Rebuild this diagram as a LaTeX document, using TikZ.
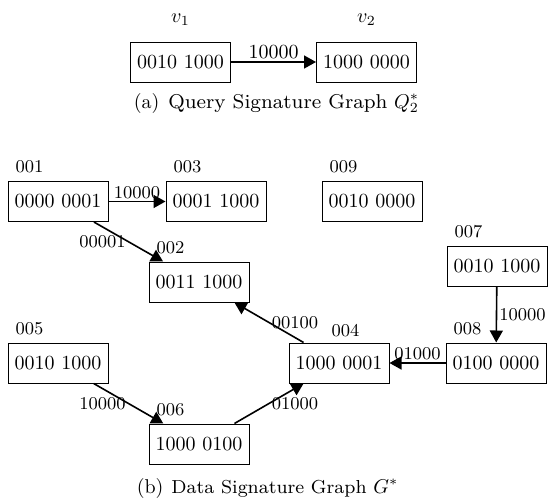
\documentclass[tikz,border=0pt]{standalone}
\usepackage{fontspec}
\newfontfamily\capfont{lmroman8-regular.otf}
\usetikzlibrary{arrows.meta,calc}
\begin{document}
\begin{tikzpicture}[x=0.5pt,y=-0.5pt,
  sigbox/.style={draw,line width=0.5pt,minimum width=50pt,minimum height=20pt,inner sep=0pt,font=\normalsize},
  idlab/.style={font=\small,inner sep=0pt},
  elab/.style={font=\small,inner sep=1pt},
  link/.style={line width=0.8pt,-{Triangle[length=6pt,width=6.5pt]}},
  caption/.style={inner sep=0pt}]
\useasboundingbox (0,0) rectangle (551,498);

% (a) query signature graph
\node[sigbox] (a1) at (180.5,62) {0010 1000};
\node[sigbox] (a2) at (366.5,62) {1000 0000};
\node (av1) at (180.5,20) {$v_1$};
\node (av2) at (366.5,20) {$v_2$};
\draw[link] (a1) -- node[above,inner sep=1pt] (ae) {10000} (a2);
\node[caption] (capa) at (276.5,103) {(a)\hspace{4.5pt}{\capfont Query Signature Graph} $Q_2^*$};

% (b) data signature graph
\node[sigbox] (n001) at (58,201.5) {0000 0001};
\node[sigbox] (n003) at (216,201.5) {0001 1000};
\node[sigbox] (n009) at (372,201.5) {0010 0000};
\node[sigbox] (n002) at (199,282) {0011 1000};
\node[sigbox] (n007) at (497,266) {0010 1000};
\node[sigbox] (n004) at (339,363) {1000 0001};
\node[sigbox] (n005) at (58,363) {0010 1000};
\node[sigbox] (n008) at (496,363) {0100 0000};
\node[sigbox] (n006) at (199,444) {1000 0100};

% vertex ids, above the top left corner of each box
\foreach \v in {001,003,009,002,007,005,008,006}
  \node[idlab] (l\v) at ($(n\v.north west)+(22,-14)$) {\v};
\node[idlab] (l004) at ($(n004.north west)+(57,-12)$) {004};

% edges
\draw[link] (n001) -- node[elab,above] (e13) {10000} (n003);
\draw[link] (n001) -- node[elab,anchor=east] (e12) {00001} (n002);
\draw[link] (n004) -- node[elab,anchor=west] (e42) {00100} (n002);
\draw[link] (n007) -- node[elab,right] (e78) {10000} (n008);
\draw[link] (n008) -- node[elab,above] (e84) {01000} (n004);
\draw[link] (n005) -- node[elab,anchor=east] (e56) {10000} (n006);
\draw[link] (n006) -- node[elab,anchor=west] (e64) {01000} (n004);

\node[caption] (capb) at (267.5,488) {(b)\hspace{4pt}{\capfont\fontsize{9.4pt}{11pt}\selectfont Data Signature Graph} $G^*$};
\end{tikzpicture}
\end{document}
